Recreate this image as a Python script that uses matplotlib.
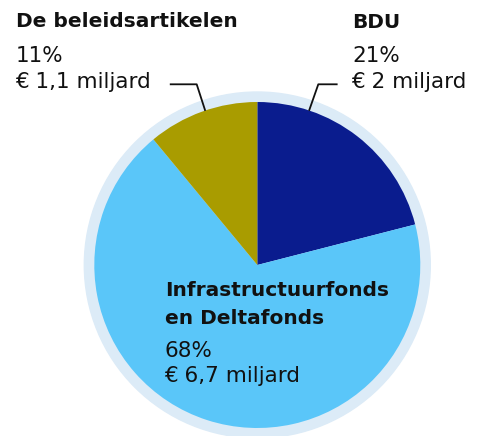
import matplotlib
matplotlib.use("Agg")
import matplotlib.pyplot as plt
from matplotlib.patches import Circle

# data
labels = ["BDU", "Infrastructuurfonds\nen Deltafonds", "De beleidsartikelen"]
shares = [21, 68, 11]
amounts = ["€ 2 miljard", "€ 6,7 miljard", "€ 1,1 miljard"]
colors = ["#0a1c8e", "#5ac6f9", "#a99c00"]

W, H = 478, 436
cx, cy, r = 257.3, H - 265, 163

fig = plt.figure(figsize=(W / 100, H / 100), dpi=100)
ax = fig.add_axes([0, 0, 1, 1])

# pale ring behind the pie
ax.add_patch(Circle((cx, cy), 173, color="#dcebf7", zorder=0))
ax.pie(shares, colors=colors, startangle=90, counterclock=False,
       center=(cx, cy), radius=r, frame=True,
       wedgeprops=dict(linewidth=0, zorder=1))

ax.set_xlim(0, W)
ax.set_ylim(0, H)
ax.set_aspect("equal")
ax.axis("off")

txt = "#111111"
bold = dict(fontsize=14.5, fontweight="bold", color=txt, va="baseline")
reg = dict(fontsize=15.5, color=txt, va="baseline")

# left label (De beleidsartikelen)
ax.text(16, H - 27.3, labels[2], **bold)
ax.text(16, H - 61.7, f"{shares[2]}%", **reg)
ax.text(15, H - 88.3, amounts[2], **reg)
ax.plot([170.7, 196.7, 205], [H - 84.3, H - 84.3, H - 110], color=txt, lw=1.3)

# right label (BDU)
ax.text(352.5, H - 28.3, labels[0], **bold)
ax.text(352.5, H - 61.7, f"{shares[0]}%", **reg)
ax.text(351.5, H - 88.3, amounts[0], **reg)
ax.plot([336.7, 318.3, 309.3], [H - 84.3, H - 84.3, H - 110], color=txt, lw=1.3)

# centre label (Infrastructuurfonds en Deltafonds)
l1, l2 = labels[1].split("\n")
ax.text(165, H - 296, l1, **bold)
ax.text(165, H - 324.3, l2, **bold)
ax.text(165, H - 357.3, f"{shares[1]}%", **reg)
ax.text(164, H - 381.7, amounts[1], **reg)

fig.savefig("out.png", dpi=100, facecolor="white")
